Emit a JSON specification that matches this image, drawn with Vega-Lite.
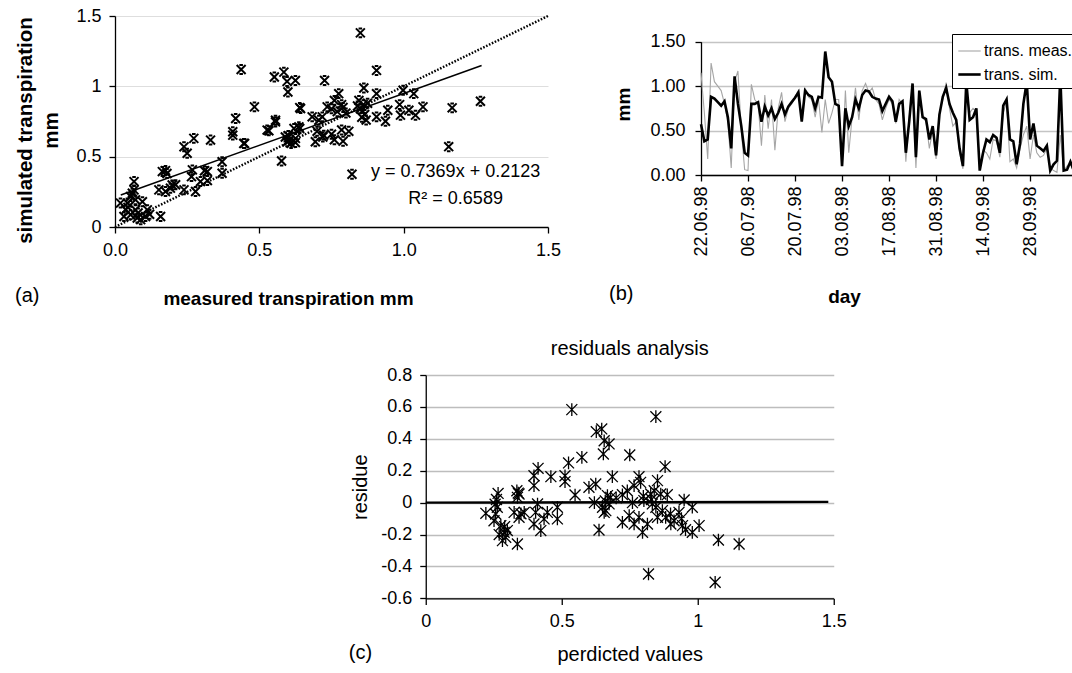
{
  "$schema": "https://vega.github.io/schema/vega-lite/v6.json",
  "background": "white",
  "padding": {"left": 15, "top": 7, "right": 0, "bottom": 0},
  "config": {
    "font": "Liberation Sans",
    "view": {"stroke": null},
    "axis": {"labelFont": "Liberation Sans", "titleFont": "Liberation Sans", "labelColor": "black", "titleColor": "black", "domainColor": "black", "tickColor": "black", "gridColor": "#d0d0d0", "labelFontSize": 18, "titleFontSize": 20, "titleFontWeight": "normal", "tickSize": 6, "domainWidth": 1.3, "tickWidth": 1.3, "labelPadding": 8, "labelOverlap": false, "labelFlush": false},
    "title": {"font": "Liberation Sans", "fontWeight": "normal", "color": "black", "fontSize": 20}
  },
  "datasets": {
    "scatterA": [
      {"x":0.019,"y":0.170},{"x":0.031,"y":0.075},{"x":0.037,"y":0.122},{"x":0.043,"y":0.170},{"x":0.054,"y":0.217},{"x":0.054,"y":0.087},{"x":0.066,"y":0.323},{"x":0.066,"y":0.264},{"x":0.071,"y":0.193},{"x":0.071,"y":0.122},{"x":0.077,"y":0.064},{"x":0.089,"y":0.052},{"x":0.106,"y":0.075},{"x":0.112,"y":0.122},{"x":0.060,"y":0.240},{"x":0.045,"y":0.140},{"x":0.080,"y":0.100},{"x":0.158,"y":0.075},{"x":0.164,"y":0.394},{"x":0.175,"y":0.401},{"x":0.180,"y":0.380},{"x":0.198,"y":0.299},{"x":0.152,"y":0.264},{"x":0.175,"y":0.252},{"x":0.192,"y":0.276},{"x":0.239,"y":0.570},{"x":0.250,"y":0.524},{"x":0.273,"y":0.630},{"x":0.331,"y":0.618},{"x":0.268,"y":0.406},{"x":0.265,"y":0.358},{"x":0.320,"y":0.394},{"x":0.296,"y":0.323},{"x":0.239,"y":0.264},{"x":0.279,"y":0.252},{"x":0.371,"y":0.464},{"x":0.371,"y":0.382},{"x":0.418,"y":0.771},{"x":0.408,"y":0.677},{"x":0.408,"y":0.653},{"x":0.483,"y":0.854},{"x":0.446,"y":0.594},{"x":0.556,"y":0.747},{"x":0.527,"y":0.689},{"x":0.533,"y":0.684},{"x":0.577,"y":0.469},{"x":0.596,"y":0.606},{"x":0.625,"y":0.630},{"x":0.620,"y":0.701},{"x":0.637,"y":0.712},{"x":0.640,"y":0.849},{"x":0.694,"y":0.606},{"x":0.723,"y":0.653},{"x":0.437,"y":1.120},{"x":0.552,"y":1.066},{"x":0.585,"y":1.101},{"x":0.596,"y":1.035},{"x":0.625,"y":1.042},{"x":0.599,"y":0.960},{"x":0.726,"y":1.042},{"x":0.850,"y":1.380},{"x":0.906,"y":1.113},{"x":0.862,"y":0.988},{"x":0.906,"y":0.948},{"x":0.775,"y":0.948},{"x":0.998,"y":0.972},{"x":1.035,"y":0.948},{"x":1.266,"y":0.894},{"x":1.168,"y":0.847},{"x":1.067,"y":0.854},{"x":0.986,"y":0.870},{"x":0.989,"y":0.795},{"x":1.018,"y":0.830},{"x":1.041,"y":0.795},{"x":0.945,"y":0.830},{"x":0.906,"y":0.783},{"x":0.937,"y":0.752},{"x":0.845,"y":0.900},{"x":0.860,"y":0.870},{"x":0.850,"y":0.840},{"x":0.865,"y":0.800},{"x":0.855,"y":0.780},{"x":0.870,"y":0.760},{"x":0.840,"y":0.860},{"x":0.875,"y":0.880},{"x":0.760,"y":0.900},{"x":0.785,"y":0.870},{"x":0.750,"y":0.840},{"x":0.770,"y":0.820},{"x":0.800,"y":0.810},{"x":0.790,"y":0.850},{"x":0.735,"y":0.854},{"x":0.718,"y":0.783},{"x":0.706,"y":0.759},{"x":0.683,"y":0.783},{"x":0.643,"y":0.842},{"x":0.556,"y":0.759},{"x":0.590,"y":0.640},{"x":0.605,"y":0.620},{"x":0.625,"y":0.600},{"x":0.610,"y":0.594},{"x":0.700,"y":0.680},{"x":0.720,"y":0.640},{"x":0.750,"y":0.660},{"x":0.760,"y":0.620},{"x":0.790,"y":0.610},{"x":0.810,"y":0.680},{"x":0.785,"y":0.690},{"x":0.449,"y":0.594},{"x":1.156,"y":0.571},{"x":0.821,"y":0.375},{"x":0.600,"y":0.650},{"x":0.640,"y":0.700},{"x":0.310,"y":0.400},{"x":0.210,"y":0.300},{"x":0.320,"y":0.330},{"x":0.120,"y":0.090},{"x":0.095,"y":0.180}
    ],
    "fitA": [{"x":0.02,"y":0.227},{"x":1.27,"y":1.148}],
    "diagA": [{"x":0,"y":0},{"x":1.5,"y":1.5}],
    "seriesB": [
      {"date":"1998-06-22","meas":1.15,"sim":0.57},{"date":"1998-06-23","meas":0.70,"sim":0.38},{"date":"1998-06-24","meas":0.18,"sim":0.40},{"date":"1998-06-25","meas":1.26,"sim":0.88},{"date":"1998-06-26","meas":1.05,"sim":0.86},{"date":"1998-06-27","meas":1.00,"sim":0.82},{"date":"1998-06-28","meas":0.95,"sim":0.78},{"date":"1998-06-29","meas":0.80,"sim":0.83},{"date":"1998-06-30","meas":0.60,"sim":0.65},
      {"date":"1998-07-01","meas":0.08,"sim":0.30},{"date":"1998-07-02","meas":1.05,"sim":1.11},{"date":"1998-07-03","meas":1.17,"sim":0.80},{"date":"1998-07-04","meas":0.50,"sim":0.55},{"date":"1998-07-05","meas":0.06,"sim":0.25},{"date":"1998-07-06","meas":0.05,"sim":0.22},{"date":"1998-07-07","meas":1.02,"sim":0.80},{"date":"1998-07-08","meas":0.85,"sim":0.80},{"date":"1998-07-09","meas":0.80,"sim":0.82},{"date":"1998-07-10","meas":0.33,"sim":0.60},{"date":"1998-07-11","meas":0.90,"sim":0.77},{"date":"1998-07-12","meas":0.52,"sim":0.67},{"date":"1998-07-13","meas":0.85,"sim":0.75},{"date":"1998-07-14","meas":0.28,"sim":0.63},{"date":"1998-07-15","meas":0.75,"sim":0.70},{"date":"1998-07-16","meas":0.93,"sim":0.80},{"date":"1998-07-17","meas":0.60,"sim":0.68},{"date":"1998-07-18","meas":0.75,"sim":0.77},{"date":"1998-07-19","meas":0.80,"sim":0.82},{"date":"1998-07-20","meas":0.88,"sim":0.87},{"date":"1998-07-21","meas":0.95,"sim":0.93},{"date":"1998-07-22","meas":0.62,"sim":0.60},{"date":"1998-07-23","meas":0.98,"sim":0.95},{"date":"1998-07-24","meas":0.88,"sim":0.90},{"date":"1998-07-25","meas":0.85,"sim":0.88},{"date":"1998-07-26","meas":0.65,"sim":0.75},{"date":"1998-07-27","meas":0.85,"sim":0.88},{"date":"1998-07-28","meas":0.48,"sim":0.87},{"date":"1998-07-29","meas":0.85,"sim":1.39},{"date":"1998-07-30","meas":0.58,"sim":1.10},{"date":"1998-07-31","meas":0.70,"sim":1.05},
      {"date":"1998-08-01","meas":0.85,"sim":0.80},{"date":"1998-08-02","meas":0.85,"sim":0.78},{"date":"1998-08-03","meas":0.12,"sim":0.10},{"date":"1998-08-04","meas":0.95,"sim":0.75},{"date":"1998-08-05","meas":0.25,"sim":0.55},{"date":"1998-08-06","meas":0.65,"sim":0.65},{"date":"1998-08-07","meas":0.98,"sim":0.85},{"date":"1998-08-08","meas":0.62,"sim":0.75},{"date":"1998-08-09","meas":0.95,"sim":0.90},{"date":"1998-08-10","meas":1.03,"sim":0.95},{"date":"1998-08-11","meas":0.93,"sim":0.94},{"date":"1998-08-12","meas":0.98,"sim":0.88},{"date":"1998-08-13","meas":0.85,"sim":0.86},{"date":"1998-08-14","meas":0.80,"sim":0.85},{"date":"1998-08-15","meas":0.62,"sim":0.72},{"date":"1998-08-16","meas":0.75,"sim":0.80},{"date":"1998-08-17","meas":0.85,"sim":0.88},{"date":"1998-08-18","meas":0.80,"sim":0.83},{"date":"1998-08-19","meas":0.58,"sim":0.60},{"date":"1998-08-20","meas":0.85,"sim":0.80},{"date":"1998-08-21","meas":0.80,"sim":0.83},{"date":"1998-08-22","meas":0.15,"sim":0.25},{"date":"1998-08-23","meas":0.65,"sim":0.60},{"date":"1998-08-24","meas":1.00,"sim":1.03},{"date":"1998-08-25","meas":0.08,"sim":0.20},{"date":"1998-08-26","meas":0.95,"sim":0.95},{"date":"1998-08-27","meas":0.65,"sim":0.65},{"date":"1998-08-28","meas":0.60,"sim":0.63},{"date":"1998-08-29","meas":0.30,"sim":0.40},{"date":"1998-08-30","meas":0.50,"sim":0.55},{"date":"1998-08-31","meas":0.18,"sim":0.22},
      {"date":"1998-09-01","meas":0.70,"sim":0.68},{"date":"1998-09-02","meas":0.85,"sim":0.88},{"date":"1998-09-03","meas":1.04,"sim":0.98},{"date":"1998-09-04","meas":0.75,"sim":0.80},{"date":"1998-09-05","meas":0.55,"sim":0.70},{"date":"1998-09-06","meas":0.60,"sim":0.62},{"date":"1998-09-07","meas":0.25,"sim":0.30},{"date":"1998-09-08","meas":0.07,"sim":0.10},{"date":"1998-09-09","meas":0.98,"sim":1.05},{"date":"1998-09-10","meas":0.70,"sim":0.62},{"date":"1998-09-11","meas":0.75,"sim":0.65},{"date":"1998-09-12","meas":0.72,"sim":0.75},{"date":"1998-09-13","meas":0.08,"sim":0.05},{"date":"1998-09-14","meas":0.28,"sim":0.25},{"date":"1998-09-15","meas":0.25,"sim":0.40},{"date":"1998-09-16","meas":0.18,"sim":0.37},{"date":"1998-09-17","meas":0.40,"sim":0.45},{"date":"1998-09-18","meas":0.38,"sim":0.42},{"date":"1998-09-19","meas":0.20,"sim":0.25},{"date":"1998-09-20","meas":0.70,"sim":0.78},{"date":"1998-09-21","meas":0.82,"sim":0.85},{"date":"1998-09-22","meas":0.15,"sim":0.40},{"date":"1998-09-23","meas":0.18,"sim":0.38},{"date":"1998-09-24","meas":0.08,"sim":0.12},{"date":"1998-09-25","meas":0.30,"sim":0.35},{"date":"1998-09-26","meas":0.45,"sim":0.80},{"date":"1998-09-27","meas":0.55,"sim":1.05},{"date":"1998-09-28","meas":0.18,"sim":0.40},{"date":"1998-09-29","meas":0.45,"sim":0.58},{"date":"1998-09-30","meas":0.25,"sim":0.33},
      {"date":"1998-10-01","meas":0.20,"sim":0.30},{"date":"1998-10-02","meas":0.22,"sim":0.27},{"date":"1998-10-03","meas":0.30,"sim":0.33},{"date":"1998-10-04","meas":0.08,"sim":0.05},{"date":"1998-10-05","meas":0.05,"sim":0.12},{"date":"1998-10-06","meas":0.03,"sim":0.16},{"date":"1998-10-07","meas":0.45,"sim":1.12},{"date":"1998-10-08","meas":0.05,"sim":0.05},{"date":"1998-10-09","meas":0.10,"sim":0.06},{"date":"1998-10-10","meas":0.14,"sim":0.15},{"date":"1998-10-11","meas":0.02,"sim":0.05}
    ],
    "scatterC": [
      {"x":0.537,"y":0.583},{"x":0.846,"y":0.539},{"x":0.627,"y":0.445},{"x":0.647,"y":0.462},{"x":0.656,"y":0.388},{"x":0.674,"y":0.368},{"x":0.653,"y":0.305},{"x":0.750,"y":0.299},{"x":0.574,"y":0.284},{"x":0.525,"y":0.249},{"x":0.880,"y":0.226},{"x":0.413,"y":0.215},{"x":0.398,"y":0.169},{"x":0.398,"y":0.107},{"x":0.460,"y":0.163},{"x":0.512,"y":0.169},{"x":0.512,"y":0.132},{"x":0.686,"y":0.163},{"x":0.784,"y":0.163},{"x":0.600,"y":0.096},{"x":0.625,"y":0.117},{"x":0.766,"y":0.107},{"x":0.790,"y":0.127},{"x":0.852,"y":0.138},{"x":0.549,"y":0.048},{"x":0.266,"y":0.058},{"x":0.335,"y":0.075},{"x":0.343,"y":0.054},{"x":0.337,"y":0.033},{"x":0.668,"y":0.044},{"x":0.680,"y":0.033},{"x":0.723,"y":0.050},{"x":0.741,"y":0.075},{"x":0.827,"y":0.054},{"x":0.840,"y":0.075},{"x":0.864,"y":0.054},{"x":0.888,"y":0.050},{"x":0.950,"y":0.017},{"x":0.411,"y":-0.008},{"x":0.221,"y":-0.067},{"x":0.263,"y":-0.029},{"x":0.257,"y":-0.071},{"x":0.251,"y":-0.113},{"x":0.276,"y":-0.144},{"x":0.288,"y":-0.186},{"x":0.294,"y":-0.217},{"x":0.282,"y":-0.238},{"x":0.300,"y":-0.175},{"x":0.325,"y":-0.061},{"x":0.343,"y":-0.092},{"x":0.362,"y":-0.061},{"x":0.337,"y":-0.259},{"x":0.398,"y":-0.134},{"x":0.423,"y":-0.175},{"x":0.404,"y":-0.061},{"x":0.447,"y":-0.061},{"x":0.435,"y":-0.102},{"x":0.484,"y":-0.029},{"x":0.484,"y":-0.102},{"x":0.637,"y":-0.171},{"x":0.650,"y":-0.029},{"x":0.662,"y":-0.050},{"x":0.674,"y":-0.008},{"x":0.656,"y":-0.061},{"x":0.723,"y":-0.123},{"x":0.748,"y":-0.081},{"x":0.766,"y":-0.134},{"x":0.784,"y":-0.092},{"x":0.797,"y":-0.186},{"x":0.815,"y":-0.134},{"x":0.802,"y":0.013},{"x":0.833,"y":-0.008},{"x":0.846,"y":-0.029},{"x":0.852,"y":-0.092},{"x":0.882,"y":-0.092},{"x":0.901,"y":-0.134},{"x":0.913,"y":-0.113},{"x":0.931,"y":-0.061},{"x":0.944,"y":-0.144},{"x":0.980,"y":-0.029},{"x":0.980,"y":-0.186},{"x":1.005,"y":-0.144},{"x":1.076,"y":-0.234},{"x":1.152,"y":-0.259},{"x":0.819,"y":-0.447},{"x":1.064,"y":-0.499},{"x":0.260,"y":0.020},{"x":0.255,"y":-0.010},{"x":0.270,"y":-0.200},{"x":0.290,"y":-0.150},{"x":0.340,"y":0.060},{"x":0.350,"y":-0.070},{"x":0.620,"y":0.000},{"x":0.660,"y":0.010},{"x":0.700,"y":0.030},{"x":0.760,"y":0.000},{"x":0.800,"y":0.040},{"x":0.830,"y":0.020},{"x":0.870,"y":-0.050},{"x":0.900,"y":-0.070},{"x":0.940,"y":-0.100},{"x":0.955,"y":-0.170}
    ],
    "lineC": [{"x":0,"y":0},{"x":1.48,"y":0.005}]
  },
  "vconcat": [
    {
      "hconcat": [
        {
          "width": 433, "height": 211,
          "title": {"text": "(a)", "orient": "bottom", "anchor": "start", "frame": "group", "offset": 0, "dx": -100, "dy": -22},
          "layer": [
            {
              "data": {"name": "scatterA"},
              "mark": {"type": "point", "shape": "M-1,-1L1,1M-1,1L1,-1M-0.4,-1L0.4,-1M-0.4,1L0.4,1", "size": 80, "strokeWidth": 2, "color": "black", "filled": false, "opacity": 1},
              "encoding": {
                "x": {"field": "x", "type": "quantitative", "scale": {"domain": [0, 1.5], "nice": false}, "axis": {"values": [0, 0.5, 1, 1.5], "tickCount": 10, "format": ".1f", "title": "measured transpiration mm", "titleFontWeight": "bold", "titleFontSize": 19, "titlePadding": 30, "titleX": 173, "grid": false}},
                "y": {"field": "y", "type": "quantitative", "scale": {"domain": [0, 1.5], "nice": false}, "axis": {"values": [0, 0.5, 1, 1.5], "tickCount": 10, "format": "~g", "title": ["simulated transpiration", "mm"], "titleFontWeight": "bold", "titleFontSize": 20.5, "titleLineHeight": 26, "titlePadding": 14, "titleY": 114, "grid": true, "gridColor": "#dedede"}}
              }
            },
            {
              "data": {"name": "fitA"},
              "mark": {"type": "line", "color": "black", "strokeWidth": 1.6},
              "encoding": {"x": {"field": "x", "type": "quantitative"}, "y": {"field": "y", "type": "quantitative"}}
            },
            {
              "data": {"name": "diagA"},
              "mark": {"type": "line", "color": "black", "strokeWidth": 2.4, "strokeDash": [1.6, 1.6]},
              "encoding": {"x": {"field": "x", "type": "quantitative"}, "y": {"field": "y", "type": "quantitative"}}
            },
            {
              "data": {"values": [{}]},
              "mark": {"type": "text", "fontSize": 18, "align": "center", "baseline": "middle", "color": "black"},
              "encoding": {"x": {"datum": 1.18, "type": "quantitative"}, "y": {"datum": 0.391, "type": "quantitative"}, "text": {"value": "y = 0.7369x + 0.2123"}}
            },
            {
              "data": {"values": [{}]},
              "mark": {"type": "text", "fontSize": 18, "align": "center", "baseline": "middle", "color": "black"},
              "encoding": {"x": {"datum": 1.18, "type": "quantitative"}, "y": {"datum": 0.2, "type": "quantitative"}, "text": {"value": "R² = 0.6589"}}
            }
          ]
        },
        {
          "width": 456, "height": 159,
          "title": {"text": "(b)", "orient": "bottom", "anchor": "start", "frame": "group", "offset": 0, "dx": -92, "dy": -22},
          "data": {"name": "seriesB"},
          "transform": [{"fold": ["meas", "sim"], "as": ["series", "value"]}],
          "mark": {"type": "line"},
          "encoding": {
            "x": {"field": "date", "type": "temporal",
              "scale": {"type": "utc", "domain": [{"year": 1998, "month": 6, "date": 22, "utc": true}, {"year": 1998, "month": 11, "date": 4, "hours": 19, "utc": true}]},
              "axis": {"values": [{"year": 1998, "month": 6, "date": 22, "utc": true}, {"year": 1998, "month": 7, "date": 6, "utc": true}, {"year": 1998, "month": 7, "date": 20, "utc": true}, {"year": 1998, "month": 8, "date": 3, "utc": true}, {"year": 1998, "month": 8, "date": 17, "utc": true}, {"year": 1998, "month": 8, "date": 31, "utc": true}, {"year": 1998, "month": 9, "date": 14, "utc": true}, {"year": 1998, "month": 9, "date": 28, "utc": true}],
                "tickCount": 20, "format": "%d.%m.%y", "labelAngle": 270, "labelPadding": 5, "title": "day", "titleFontWeight": "bold", "titleFontSize": 19, "titlePadding": 31, "titleX": 143, "grid": false}},
            "y": {"field": "value", "type": "quantitative",
              "scale": {"domain": [0, 1.5], "nice": false, "range": [159, 25.7]},
              "axis": {"values": [0, 0.5, 1, 1.5], "tickCount": 10, "format": ".2f", "title": "mm", "titleFontWeight": "bold", "titleFontSize": 19, "titleY": 88, "titlePadding": 16, "labelPadding": 10, "grid": true, "gridColor": "#c4c4c4", "gridWidth": 1.4}},
            "color": {"field": "series", "type": "nominal", "scale": {"domain": ["meas", "sim"], "range": ["#a6a6a6", "#000000"]},
              "legend": {"orient": "none", "legendX": 251, "legendY": 18, "title": null, "strokeColor": "black", "fillColor": "white", "padding": 5, "labelFontSize": 16, "labelFont": "Liberation Sans", "labelColor": "black", "symbolType": "stroke", "symbolSize": 500, "rowPadding": 3, "labelOffset": 2, "labelExpr": "datum.value == 'meas' ? 'trans. meas.' : 'trans. sim.'"}},
            "strokeWidth": {"field": "series", "type": "nominal", "scale": {"domain": ["meas", "sim"], "range": [1.1, 2.6]},
              "legend": {"orient": "none", "legendX": 251, "legendY": 18, "title": null, "strokeColor": "black", "fillColor": "white", "padding": 5, "labelFontSize": 16, "labelFont": "Liberation Sans", "labelColor": "black", "symbolType": "stroke", "symbolSize": 500, "rowPadding": 3, "labelOffset": 2, "labelExpr": "datum.value == 'meas' ? 'trans. meas.' : 'trans. sim.'"}}
          }
        }
      ],
      "spacing": 153,
      "bounds": "flush",
      "resolve": {"scale": {"color": "independent", "strokeWidth": "independent"}}
    },
    {
      "width": 408, "height": 223.4,
      "title": {"text": "residuals analysis", "fontSize": 20, "offset": 7, "anchor": "middle", "frame": "group"},
      "layer": [
        {
          "data": {"name": "scatterC"},
          "mark": {"type": "point", "shape": "M-1,-1L1,1M-1,1L1,-1M0,-1.15L0,1.15", "size": 120, "strokeWidth": 1.3, "color": "black", "filled": false, "opacity": 1},
          "encoding": {
            "x": {"field": "x", "type": "quantitative", "scale": {"domain": [0, 1.5], "nice": false}, "axis": {"values": [0, 0.5, 1, 1.5], "tickCount": 10, "format": "~g", "title": "perdicted values", "titlePadding": 14, "grid": false}},
            "y": {"field": "y", "type": "quantitative", "scale": {"domain": [-0.6, 0.8], "nice": false}, "axis": {"values": [-0.6, -0.4, -0.2, 0, 0.2, 0.4, 0.6, 0.8], "tickCount": 20, "labelExpr": "datum.value == 0 ? '0' : (datum.value < 0 ? '-' : '') + format(abs(datum.value), '.1f')", "title": "residue", "titlePadding": 10, "grid": true, "gridColor": "#bdbdbd", "gridWidth": 1.4}}
          }
        },
        {
          "data": {"name": "lineC"},
          "mark": {"type": "line", "color": "black", "strokeWidth": 2.4},
          "encoding": {"x": {"field": "x", "type": "quantitative"}, "y": {"field": "y", "type": "quantitative"}}
        },
        {
          "data": {"values": [{}]},
          "mark": {"type": "text", "fontSize": 20, "align": "center", "baseline": "middle", "color": "black"},
          "encoding": {"x": {"datum": -0.24, "type": "quantitative"}, "y": {"datum": -0.945, "type": "quantitative"}, "text": {"value": "(c)"}}
        }
      ]
    }
  ],
  "spacing": 31,
  "center": true,
  "resolve": {"scale": {"color": "independent", "strokeWidth": "independent"}}
}
